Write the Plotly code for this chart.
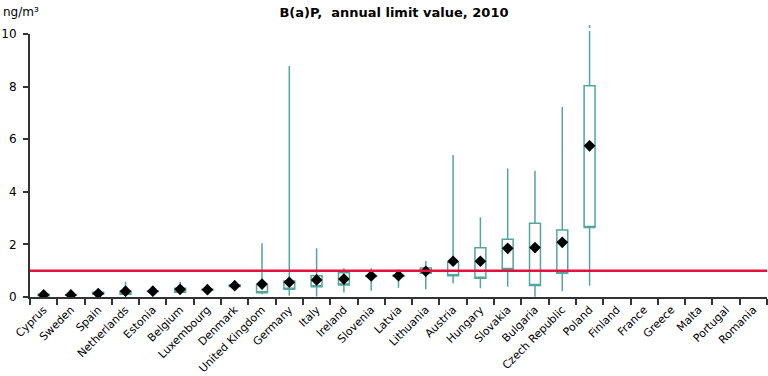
import plotly.graph_objects as go

countries = ["Cyprus", "Sweden", "Spain", "Netherlands", "Estonia", "Belgium", "Luxembourg",
             "Denmark", "United Kingdom", "Germany", "Italy", "Ireland", "Slovenia", "Latvia",
             "Lithuania", "Austria", "Hungary", "Slovakia", "Bulgaria", "Czech Republic", "Poland",
             "Finland", "France", "Greece", "Malta", "Portugal", "Romania"]

data_countries = countries[:21]
low_vals = [0.03, 0.05, 0.08, 0.05, 0.20, 0.15, 0.26, 0.30, 0.10, 0.05, 0.02, 0.17, 0.24, 0.35,
            0.29, 0.51, 0.33, 0.39, 0.01, 0.22, 0.43]
q1_vals = [0.05, 0.07, 0.10, 0.10, 0.21, 0.18, 0.27, 0.40, 0.16, 0.29, 0.39, 0.46, 0.78, 0.79,
           0.90, 0.81, 0.71, 1.05, 0.44, 0.90, 2.64]
q3_vals = [0.10, 0.09, 0.18, 0.23, 0.23, 0.33, 0.29, 0.46, 0.48, 0.61, 0.81, 0.92, 0.82, 0.83,
           1.10, 1.32, 1.87, 2.20, 2.80, 2.55, 8.03]
high_vals = [0.12, 0.10, 0.20, 0.58, 0.24, 0.58, 0.30, 0.55, 2.04, 8.78, 1.85, 1.09, 1.09, 1.05,
             1.37, 5.40, 3.03, 4.89, 4.80, 7.22, 10.40]
mean_vals = [0.08, 0.08, 0.13, 0.22, 0.22, 0.29, 0.28, 0.43, 0.49, 0.56, 0.65, 0.68, 0.80, 0.81,
             0.98, 1.36, 1.36, 1.85, 1.88, 2.08, 5.75]

limit_value = 1.0
y_max = 10
y_ticks = [0, 2, 4, 6, 8, 10]

teal = "#52a69e"
font_family = "DejaVu Sans, Verdana, sans-serif"

fig = go.Figure()
fig.add_trace(go.Box(
    x=data_countries,
    q1=q1_vals, median=q1_vals, q3=q3_vals,
    lowerfence=low_vals, upperfence=high_vals,
    width=0.4, whiskerwidth=0,
    line=dict(color=teal, width=1.5),
    fillcolor="rgba(255,255,255,0)",
    boxpoints=False, showlegend=False, hoverinfo="skip",
))
fig.add_trace(go.Scatter(
    x=data_countries, y=mean_vals, mode="markers",
    marker=dict(symbol="diamond", color="black", size=9),
    showlegend=False,
))

# limit value line
fig.add_shape(type="line", xref="paper", x0=0, x1=1, yref="y", y0=limit_value, y1=limit_value,
              line=dict(color="#e2123d", width=2.5))

# dotted extension for values beyond the axis maximum
for c, h in zip(data_countries, high_vals):
    if h > y_max:
        fig.add_shape(type="line", xref="x", x0=c, x1=c, yref="paper", y0=1.0, y1=h / y_max,
                      line=dict(color=teal, width=1.5, dash="dot"))

fig.update_layout(
    width=768, height=376,
    margin=dict(l=30, r=1, t=34, b=79),
    plot_bgcolor="white", paper_bgcolor="white",
    font=dict(family=font_family, size=11, color="black"),
    title=dict(text="<b>B(a)P,  annual limit value, 2010</b>", x=0.513, xanchor="center",
               y=0.968, yanchor="middle", font=dict(size=13, family=font_family)),
    annotations=[dict(text="ng/m³", xref="paper", yref="paper", x=-0.04, y=1.085,
                      xanchor="left", yanchor="middle", showarrow=False,
                      font=dict(size=12, family=font_family))],
)
fig.update_xaxes(
    type="category", categoryorder="array", categoryarray=countries,
    range=[-0.5, len(countries) - 0.5], automargin=False,
    showline=True, linecolor="#333333", linewidth=2,
    ticks="outside", tickson="boundaries", ticklen=6, tickcolor="#333333", tickwidth=1.5,
    tickangle=-45, tickfont=dict(size=11), showgrid=False,
)
fig.update_yaxes(
    range=[0, y_max], tickvals=y_ticks, automargin=False,
    showline=True, linecolor="#333333", linewidth=2,
    ticks="outside", ticklen=5, tickcolor="#333333", tickwidth=1.5,
    ticklabelstandoff=4,
    tickfont=dict(size=12), showgrid=False, zeroline=False,
)

fig.write_html("out.html", config={"displayModeBar": False},
               post_script="document.body.style.margin='0';document.body.style.overflow='hidden';")
